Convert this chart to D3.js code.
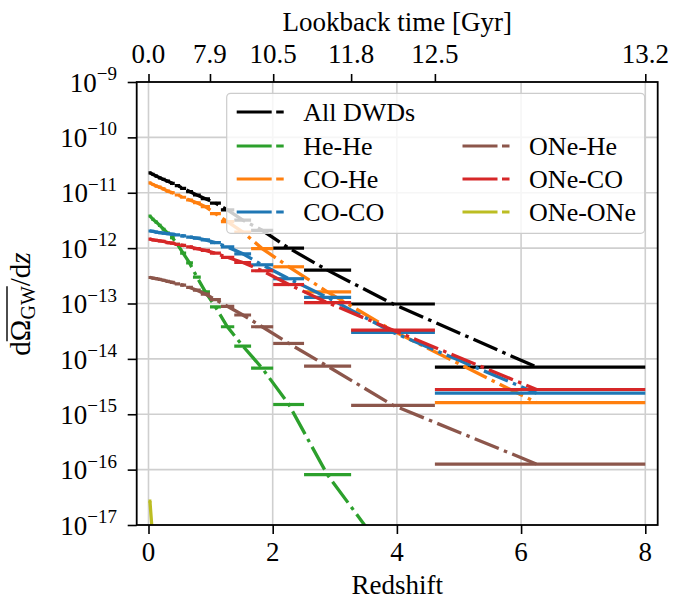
<!DOCTYPE html>
<html><head><meta charset="utf-8">
<script src="https://cdn.jsdelivr.net/npm/d3@7"></script>
<style>body{margin:0;background:#fff}</style>
</head><body>
<svg id="c" width="687" height="601"></svg>
<script>
// ---- data ----
const zEdges = [0, 0.047, 0.098, 0.152, 0.211, 0.275, 0.346, 0.423, 0.509, 0.606, 0.716, 0.842, 0.990, 1.166, 1.381, 1.652, 2.008, 2.505, 3.263, 4.612, 8.0];
const zMid = [0.023, 0.072, 0.125, 0.181, 0.243, 0.31, 0.384, 0.466, 0.557, 0.661, 0.779, 0.916, 1.078, 1.27, 1.52, 1.83, 2.26, 2.88, 3.94, 6.25];
const allDWDs = [2.29e-11, 2.14e-11, 2.0e-11, 1.86e-11, 1.74e-11, 1.62e-11, 1.48e-11, 1.35e-11, 1.2e-11, 1.05e-11, 9.1e-12, 7.8e-12, 6.5e-12, 4.9e-12, 3.2e-12, 2.1e-12, 1.0e-12, 4.0e-13, 9.8e-14, 7.1e-15];
const heHe = [3.8e-12, 3.3e-12, 2.95e-12, 2.57e-12, 2.19e-12, 1.86e-12, 1.55e-12, 1.17e-12, 8.1e-13, 5.4e-13, 3.0e-13, 1.62e-13, 8.7e-14, 3.8e-14, 1.7e-14, 6.8e-15, 1.5e-15, 8.1e-17, 2.0e-18, 1e-20];
const coHe = [1.51e-11, 1.41e-11, 1.32e-11, 1.26e-11, 1.17e-11, 1.07e-11, 1.0e-11, 9.1e-12, 8.3e-12, 7.4e-12, 6.6e-12, 5.6e-12, 4.2e-12, 3.0e-12, 1.95e-12, 9.8e-13, 4.6e-13, 1.62e-13, 3.2e-14, 1.62e-15];
const coCo = [2.04e-12, 2.0e-12, 1.95e-12, 1.9e-12, 1.86e-12, 1.82e-12, 1.78e-12, 1.74e-12, 1.66e-12, 1.58e-12, 1.51e-12, 1.41e-12, 1.26e-12, 1.05e-12, 7.9e-13, 5.0e-13, 2.8e-13, 1.29e-13, 3.0e-14, 2.4e-15];
const oneHe = [2.95e-13, 2.88e-13, 2.82e-13, 2.72e-13, 2.63e-13, 2.51e-13, 2.4e-13, 2.26e-13, 2.14e-13, 1.95e-13, 1.74e-13, 1.48e-13, 1.17e-13, 8.9e-14, 6.2e-14, 3.8e-14, 1.9e-14, 7.4e-15, 1.45e-15, 1.26e-16];
const oneCo = [1.45e-12, 1.41e-12, 1.38e-12, 1.35e-12, 1.32e-12, 1.26e-12, 1.23e-12, 1.17e-12, 1.12e-12, 1.05e-12, 9.8e-13, 9.1e-13, 8.1e-13, 6.8e-13, 5.5e-13, 3.9e-13, 2.2e-13, 1.04e-13, 3.3e-14, 2.8e-15];
const oneOne = [2.7e-17, 5e-18, 2e-18, 1e-18, 6e-19, 4e-19, 2.5e-19, 1.5e-19, 1e-19, 6e-20, 4e-20, 2.5e-20, 1.5e-20, 8e-21, 4e-21, 2e-21, 8e-22, 3e-22, 5e-23, 1e-24];
const seriesNames = ["All DWDs", "He-He", "CO-He", "CO-CO", "ONe-He", "ONe-CO", "ONe-ONe"];
const xTicks = [0, 2, 4, 6, 8];
const yTickExps = [-9, -10, -11, -12, -13, -14, -15, -16, -17];
const topTickZ = [0, 0.990, 2.008, 3.263, 4.612, 8.0];
const topTickLabels = ["0.0", "7.9", "10.5", "11.8", "12.5", "13.2"];

// ---- styling / layout ----
const colors = ["#000000", "#2ca02c", "#ff7f0e", "#1f77b4", "#8c564b", "#d62728", "#bcbd22"];
const seriesVals = [allDWDs, heHe, coHe, coCo, oneHe, oneCo, oneOne];
const FONT = "'Liberation Serif','DejaVu Serif',serif";
const L = 136.7, R = 657.7, T = 82, B = 525;

const svg = d3.select("#c");
const x = d3.scaleLinear().domain([-0.19, 8.2]).range([L, R]);
const y = d3.scaleLog().domain([1e-17, 1e-9]).range([B, T]);

// grid
const grid = svg.append("g").attr("stroke", "#cfcfcf").attr("stroke-width", 1.6);
xTicks.forEach(t => grid.append("line").attr("x1", x(t)).attr("x2", x(t)).attr("y1", T).attr("y2", B));
yTickExps.forEach(e => grid.append("line").attr("x1", L).attr("x2", R).attr("y1", y(Math.pow(10, e))).attr("y2", y(Math.pow(10, e))));

// clip
svg.append("defs").append("clipPath").attr("id", "clip")
  .append("rect").attr("x", L).attr("y", T).attr("width", R - L).attr("height", B - T);
const plot = svg.append("g").attr("clip-path", "url(#clip)");

const line = d3.line().x((d, i) => x(zMid[i])).y(d => y(d));
seriesVals.forEach((vals, s) => {
  const g = plot.append("g");
  g.selectAll("line.step").data(vals).enter().append("line")
    .attr("x1", (d, i) => x(zEdges[i])).attr("x2", (d, i) => x(zEdges[i + 1]))
    .attr("y1", d => y(d)).attr("y2", d => y(d))
    .attr("stroke", colors[s]).attr("stroke-width", 3.2);
  g.append("path").datum(vals).attr("d", line)
    .attr("fill", "none").attr("stroke", colors[s]).attr("stroke-width", 3.3)
    .attr("stroke-dasharray", "26,5.5,3.5,5.5");
});

// axes ticks
const axB = svg.append("g").attr("transform", `translate(0,${B})`)
  .call(d3.axisBottom(x).tickValues(xTicks).tickSize(9).tickFormat(""));
const axL = svg.append("g").attr("transform", `translate(${L},0)`)
  .call(d3.axisLeft(y).tickValues(yTickExps.map(e => Math.pow(10, e))).tickSize(9).tickFormat(""));
const axT = svg.append("g").attr("transform", `translate(0,${T})`)
  .call(d3.axisTop(x).tickValues(topTickZ).tickSize(8).tickFormat(""));
[axB, axL, axT].forEach(a => { a.select(".domain").remove(); a.selectAll(".tick line").attr("stroke", "#000").attr("stroke-width", 1.6); });

// frame
svg.append("rect").attr("x", L).attr("y", T).attr("width", R - L).attr("height", B - T)
  .attr("fill", "none").attr("stroke", "#000").attr("stroke-width", 1.8);

// tick labels
const txt = svg.append("g").attr("font-family", FONT).attr("fill", "#000");
xTicks.forEach(t => txt.append("text").attr("x", x(t)).attr("y", 561).attr("text-anchor", "middle")
  .attr("font-size", 27).text(d3.format("d")(t)));
topTickZ.forEach((z, i) => txt.append("text").attr("x", x(z)).attr("y", 63).attr("text-anchor", "middle")
  .attr("font-size", 27).text(topTickLabels[i]));
yTickExps.forEach(e => {
  const t = txt.append("text").attr("x", 117).attr("y", y(Math.pow(10, e)) + 9.7).attr("text-anchor", "end");
  t.append("tspan").attr("font-size", 27).text("10");
  t.append("tspan").attr("font-size", 19).attr("dy", -11.7).text("\u2212" + Math.abs(e));
});

// axis titles
txt.append("text").attr("x", (L + R) / 2).attr("y", 594).attr("text-anchor", "middle").attr("font-size", 27).text("Redshift");
txt.append("text").attr("x", (L + R) / 2).attr("y", 31).attr("text-anchor", "middle").attr("font-size", 27).text("Lookback time [Gyr]");

const gy = svg.append("g").attr("transform", "translate(30,304) rotate(-90)").attr("font-family", FONT);
const yl = gy.append("text").attr("font-size", 29);
yl.append("tspan").text("d\u03A9");
yl.append("tspan").attr("font-size", 20).attr("dy", 5).text("GW");
yl.append("tspan").attr("dy", -5).text("/d");
yl.append("tspan").attr("font-style", "italic").text("z");
const len = yl.node().getComputedTextLength();
yl.attr("x", -len / 2);
const s0 = yl.node().getStartPositionOfChar(1).x, s1 = yl.node().getEndPositionOfChar(3).x;
gy.append("line").attr("x1", s0).attr("x2", s1).attr("y1", -23).attr("y2", -23).attr("stroke", "#000").attr("stroke-width", 1.4);

// legend
const lg = svg.append("g").attr("font-family", FONT);
lg.append("rect").attr("x", 226.7).attr("y", 93.3).attr("width", 418).attr("height", 140).attr("rx", 4)
  .attr("fill", "#fff").attr("fill-opacity", 0.8).attr("stroke", "#cccccc").attr("stroke-width", 1.2);
const legendPos = [[0, 0], [0, 1], [0, 2], [0, 3], [1, 1], [1, 2], [1, 3]];
const colX = [236.7, 462.5];
const rowY = [112, 146, 179, 212];
seriesNames.forEach((n, i) => {
  const [c, r] = legendPos[i];
  lg.append("line").attr("x1", colX[c]).attr("x2", colX[c] + 47).attr("y1", rowY[r]).attr("y2", rowY[r])
    .attr("stroke", colors[i]).attr("stroke-width", 3.2).attr("stroke-dasharray", "35,4.5,8");
  lg.append("text").attr("x", colX[c] + 66.6).attr("y", rowY[r] + 8.5).attr("font-size", 26).text(n);
});
</script>
</body></html>
